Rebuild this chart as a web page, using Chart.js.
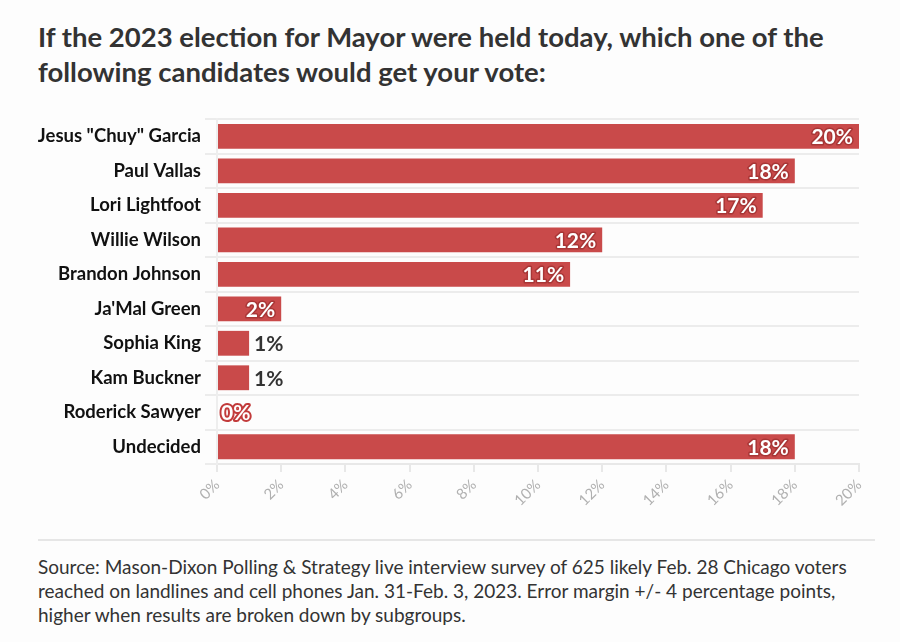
<!DOCTYPE html>
<html>
<head>
<meta charset="utf-8">
<script src="https://cdn.jsdelivr.net/npm/chart.js@4"></script>
<style>
  html, body { margin:0; padding:0; background:#fdfdfd; }
  body { width:900px; height:642px; position:relative; overflow:hidden; font-family: Lato, "Open Sans", sans-serif; color:#333; }
  #title { position:absolute; left:38px; top:19px; width:860px; font-weight:700; font-size:27.5px; line-height:35px; color:#333; margin:0; white-space:nowrap; }
  #wrap { position:absolute; left:0; top:104px; width:900px; height:426px; }
  #sep { position:absolute; left:38px; top:539px; width:837px; height:0; border-top:2px solid #e6e6e6; }
  #src { position:absolute; left:38px; top:555px; font-size:19px; line-height:24px; color:#333; margin:0; white-space:nowrap; }
</style>
</head>
<body>
<h1 id="title">If the 2023 election for Mayor were held today, which one of the<br>following candidates would get your vote:</h1>
<div id="wrap"><canvas id="c"></canvas></div>
<div id="sep"></div>
<p id="src">Source: Mason-Dixon Polling &amp; Strategy live interview survey of 625 likely Feb. 28 Chicago voters<br>reached on landlines and cell phones Jan. 31-Feb. 3, 2023. Error margin +/- 4 percentage points,<br>higher when results are broken down by subgroups.</p>
<script>
const candidates = ['Jesus "Chuy" Garcia','Paul Vallas','Lori Lightfoot','Willie Wilson','Brandon Johnson',"Ja'Mal Green",'Sophia King','Kam Buckner','Roderick Sawyer','Undecided'];
const votePct = [20, 18, 17, 12, 11, 2, 1, 1, 0, 18];
const xTickValues = [0, 2, 4, 6, 8, 10, 12, 14, 16, 18, 20];

const BAR = '#c94a4a';

const valueLabels = {
  id: 'valueLabels',
  afterDatasetsDraw(chart) {
    const ctx = chart.ctx;
    const meta = chart.getDatasetMeta(0);
    ctx.save();
    ctx.font = '700 21px Lato, "Open Sans", sans-serif';
    ctx.textBaseline = 'middle';
    ctx.lineJoin = 'round';
    meta.data.forEach((el, i) => {
      const v = votePct[i];
      const txt = v + '%';
      if (v >= 2) {
        ctx.textAlign = 'right';
        ctx.lineWidth = 3;
        ctx.strokeStyle = '#a83636';
        ctx.strokeText(txt, el.x - 6, el.y + 1);
        ctx.fillStyle = '#ffffff';
        ctx.fillText(txt, el.x - 6, el.y + 1);
      } else if (v >= 1) {
        ctx.textAlign = 'left';
        ctx.fillStyle = '#333333';
        ctx.fillText(txt, el.x + 5, el.y + 1);
      } else {
        ctx.textAlign = 'left';
        ctx.lineWidth = 4;
        ctx.strokeStyle = '#c23b3b';
        ctx.strokeText(txt, el.x + 4, el.y + 1);
        ctx.fillStyle = '#ffffff';
        ctx.fillText(txt, el.x + 4, el.y + 1);
      }
    });
    ctx.restore();
  }
};

new Chart(document.getElementById('c'), {
  type: 'bar',
  data: {
    labels: candidates,
    datasets: [{
      data: votePct,
      backgroundColor: BAR,
      borderWidth: 0,
      categoryPercentage: 1,
      barPercentage: 0.72
    }]
  },
  options: {
    indexAxis: 'y',
    responsive: true,
    maintainAspectRatio: false,
    animation: false,
    layout: { padding: { top: 5, right: 41, left: 0, bottom: 0 } },
    plugins: { legend: { display: false }, tooltip: { enabled: false } },
    scales: {
      x: {
        min: 0, max: 20,
        afterBuildTicks(scale) { scale.ticks = xTickValues.map(v => ({ value: v })); },
        afterFit(scale) { scale.height = 66; },
        border: { display: true, color: '#e8e8e8', width: 2 },
        grid: { drawOnChartArea: false, drawTicks: true, tickLength: 8, color: '#e8e8e8', lineWidth: 2 },
        ticks: {
          minRotation: 45, maxRotation: 45,
          color: '#b0b0b0',
          font: { family: 'Lato, "Open Sans", sans-serif', size: 15 },
          padding: 4,
          callback: v => v + '%'
        }
      },
      y: {
        afterFit(scale) { scale.width = 217; },
        border: { display: true, color: '#eeeeee', width: 2 },
        grid: { color: '#ececec', lineWidth: 2, tickLength: 12, drawTicks: true },
        ticks: {
          color: '#111',
          font: { family: 'Lato, "Open Sans", sans-serif', size: 18.5, weight: '700' },
          padding: 4
        }
      }
    }
  },
  plugins: [valueLabels]
});
</script>
</body>
</html>
